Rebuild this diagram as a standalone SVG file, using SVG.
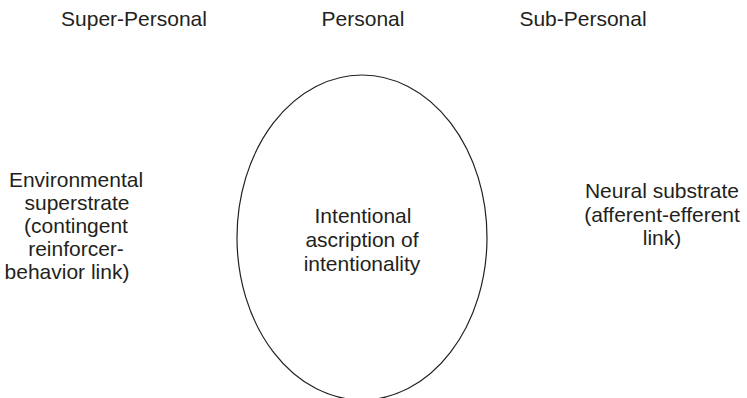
<svg xmlns="http://www.w3.org/2000/svg" width="747" height="398" viewBox="0 0 747 398">
  <style>
    text { font-family: "Liberation Sans", Arial, Helvetica, sans-serif; font-size: 21px; fill: #231f20; text-anchor: middle; }
    .outline { fill: none; stroke: #231f20; stroke-width: 1.2; }
  </style>
  <rect width="747" height="398" fill="#ffffff"/>

  <!-- Level headings -->
  <g id="headings">
    <text x="134" y="26">Super-Personal</text>
    <text x="363" y="26">Personal</text>
    <text x="583" y="26">Sub-Personal</text>
  </g>

  <!-- Super-personal: environmental superstrate -->
  <g id="environmental">
    <text x="76" y="187">Environmental</text>
    <text x="77" y="210">superstrate</text>
    <text x="76" y="233">(contingent</text>
    <text x="76" y="256">reinforcer-</text>
    <text x="67" y="279">behavior link)</text>
  </g>

  <!-- Personal level: intentional ascription -->
  <g id="intentional">
    <ellipse class="outline" cx="362" cy="237.5" rx="125" ry="162.5"/>
    <text x="363" y="223">Intentional</text>
    <text x="362" y="247">ascription of</text>
    <text x="362" y="271">intentionality</text>
  </g>

  <!-- Sub-personal: neural substrate -->
  <g id="neural">
    <text x="662" y="198">Neural substrate</text>
    <text x="662" y="222">(afferent-efferent</text>
    <text x="662" y="245">link)</text>
  </g>

  <g id="connectors"></g>
</svg>
